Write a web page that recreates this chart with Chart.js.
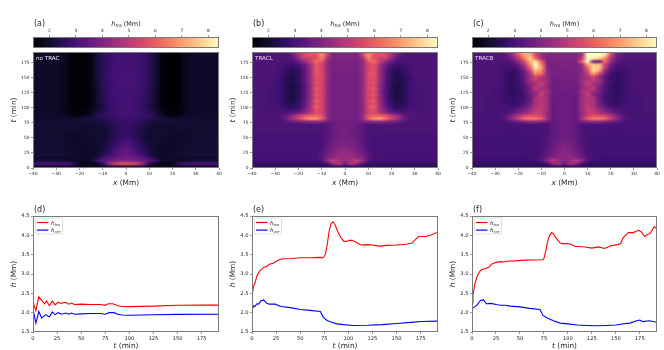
<!DOCTYPE html>
<html><head><meta charset="utf-8">
<script src="https://cdn.jsdelivr.net/npm/chart.js@4"></script>
<style>
html,body{margin:0;padding:0;background:#fff;width:664px;height:350px;overflow:hidden}
canvas{position:absolute;left:0;top:0}
.cell{position:absolute;overflow:hidden}
</style></head><body>
<script>
// ---- heat-map axes ----
const xCols=[0,2.5,5,7.5,10,12.5,15,17.5,20,22.5,25,27.5,30,32.5,35,37.5,40];
const heatXTicks=[-40,-30,-20,-10,0,10,20,30,40];
const heatYTicks=[0,25,50,75,100,125,150,175];
const cbarTicks=[2,3,4,5,6,7,8];
const lineXTicks=[0,25,50,75,100,125,150,175];
const lineYTicks=[1.5,2,2.5,3,3.5,4,4.5];
const rowStep=5;
// ---- h_tra (tenths of Mm): rows from t=192.5 down to t=2.5, columns |x|=0..40 ----
const hA=[
[29,29,29,27,25,21,16,14,14,14,17,18,19,19,19,19,19],
[29,29,29,27,25,21,16,14,14,14,17,18,19,19,19,19,19],
[29,29,29,27,25,21,16,14,14,14,17,18,19,19,19,19,19],
[29,29,29,27,25,21,16,14,14,14,17,18,19,19,19,19,19],
[29,29,29,27,25,21,16,14,14,14,17,18,19,19,19,19,19],
[29,29,29,27,25,21,16,14,14,14,17,18,19,19,19,19,19],
[30,30,29,27,25,21,16,14,14,14,17,18,19,19,19,19,19],
[30,30,29,28,25,21,16,14,14,14,17,18,19,19,19,19,19],
[30,30,29,28,25,21,16,14,14,14,17,18,19,19,19,19,19],
[30,30,29,28,25,21,16,14,14,14,17,18,19,19,19,19,19],
[30,30,29,27,25,21,16,14,14,14,17,18,19,19,19,19,19],
[30,30,29,27,25,21,16,14,14,14,17,18,19,19,19,19,19],
[30,29,29,27,25,20,16,14,14,14,17,18,19,19,19,19,19],
[30,29,29,27,24,20,16,14,14,14,17,18,19,19,19,19,19],
[30,29,29,27,24,20,16,14,14,14,17,18,19,19,19,19,19],
[29,29,28,27,24,20,16,14,14,14,17,18,19,19,19,19,19],
[29,29,28,27,24,20,16,14,14,14,17,18,19,19,19,19,19],
[29,29,28,26,24,20,16,14,14,14,17,18,19,19,19,19,19],
[29,29,28,26,23,19,16,14,14,14,17,18,19,19,19,19,19],
[29,29,28,26,24,20,17,15,15,15,17,18,19,19,19,19,19],
[29,29,28,27,25,22,18,15,15,15,17,18,19,19,19,19,19],
[29,29,28,27,26,24,20,17,16,16,18,19,19,19,19,19,19],
[28,28,27,26,25,24,23,22,21,20,20,20,20,20,20,20,20],
[27,27,26,24,22,21,21,21,21,21,21,21,20,20,20,20,20],
[27,26,25,23,21,20,20,20,20,20,20,20,20,20,20,20,20],
[27,26,25,22,20,20,20,20,20,20,20,20,20,20,20,20,20],
[27,26,24,22,20,20,20,20,20,20,20,20,20,20,20,20,20],
[27,26,24,22,20,20,20,20,20,19,19,20,20,20,20,20,20],
[28,26,24,22,20,20,20,20,19,19,20,20,21,20,21,20,21],
[29,27,25,22,20,20,20,19,19,19,20,20,20,21,20,21,20],
[31,29,26,23,21,20,20,19,19,19,20,20,21,21,21,21,21],
[33,30,27,24,21,20,19,19,19,19,20,21,20,20,20,20,20],
[34,32,28,25,22,20,19,19,19,20,20,20,21,21,21,21,21],
[35,33,30,26,22,20,19,19,19,20,20,21,20,20,20,20,20],
[36,34,31,28,24,20,19,19,20,20,21,21,22,22,22,22,22],
[37,36,34,32,28,22,19,19,19,19,19,19,19,19,19,19,19],
[41,40,38,36,33,30,20,18,19,19,20,21,22,22,22,22,22],
[58,58,54,42,24,17,16,16,17,26,30,30,30,30,30,30,30],
[20,20,20,20,19,19,19,19,19,19,19,19,19,19,19,19,19]];
const hB=[
[40,40,39,50,66,60,58,55,48,38,32,31,31,31,31,31,31],
[40,40,39,52,68,56,58,56,46,36,32,31,31,31,31,31,31],
[40,40,39,46,64,58,52,52,42,33,31,31,31,31,31,31,31],
[40,39,39,42,58,62,52,42,36,31,30,31,31,31,31,31,31],
[39,39,38,42,54,58,46,36,30,28,29,30,31,31,31,31,31],
[39,39,38,42,54,58,44,34,28,26,27,30,31,31,31,31,31],
[39,38,38,42,55,58,44,33,27,25,26,29,31,31,31,31,31],
[38,38,38,42,56,58,44,33,26,24,25,29,31,31,31,31,31],
[38,38,37,43,56,58,44,33,26,23,25,28,31,31,31,31,31],
[38,38,37,43,55,56,44,33,26,23,24,28,30,31,31,31,31],
[38,38,37,42,56,58,43,32,26,23,24,28,30,31,31,31,31],
[38,38,37,42,54,56,42,32,25,22,24,28,30,30,31,31,31],
[38,38,37,42,56,59,43,32,25,22,24,28,30,30,31,31,31],
[38,38,37,42,54,56,42,32,25,22,24,28,30,30,31,31,31],
[38,38,37,42,56,59,43,32,25,22,24,28,30,30,31,31,31],
[38,38,37,42,54,56,42,32,25,22,24,28,30,30,31,31,31],
[38,38,37,42,56,60,44,33,26,23,24,28,30,30,31,31,31],
[38,38,37,42,54,57,44,33,27,24,25,28,30,30,31,31,31],
[38,38,37,42,56,60,46,35,28,25,26,29,30,30,31,31,31],
[38,38,37,42,54,57,46,37,31,28,28,30,30,30,31,31,31],
[38,38,37,42,54,56,48,41,36,33,31,31,31,31,31,31,31],
[38,38,37,42,58,60,60,57,50,44,36,32,31,31,31,31,31],
[39,39,38,43,60,68,69,63,54,47,37,32,31,31,31,31,31],
[37,37,36,38,41,42,42,41,38,36,33,31,31,31,31,31,31],
[37,37,36,33,31,31,31,31,31,31,31,31,31,31,31,31,31],
[38,37,36,33,31,31,31,31,31,31,31,31,31,31,31,31,31],
[38,37,36,33,31,31,31,31,31,31,31,31,31,31,31,31,31],
[38,37,36,33,31,30,31,30,30,30,31,30,30,30,30,30,30],
[38,37,36,33,31,30,30,30,30,30,30,30,30,30,30,30,30],
[38,38,36,33,31,30,30,30,30,30,30,30,30,30,30,30,30],
[39,38,37,34,31,30,30,30,30,30,30,30,30,30,30,30,30],
[40,39,37,34,31,30,30,30,30,30,30,30,30,30,30,30,30],
[42,40,38,35,31,30,30,30,30,30,30,30,30,30,30,30,30],
[43,42,39,36,32,30,30,30,30,30,30,30,30,30,30,30,30],
[44,43,41,37,33,30,30,29,29,29,29,29,29,29,29,29,29],
[44,44,42,39,34,30,30,29,29,29,29,29,29,29,29,29,29],
[44,46,53,44,32,29,29,29,29,29,29,29,29,29,29,29,29],
[36,49,44,30,27,27,26,26,26,26,26,26,26,26,26,26,26],
[25,25,25,25,25,25,25,25,25,25,25,25,25,25,25,25,25]];
const hC=[
[40,40,40,41,44,58,70,72,62,46,36,33,32,32,32,32,32],
[40,40,40,40,45,55,74,70,56,42,34,32,32,32,32,32,32],
[40,40,39,40,47,62,78,62,50,38,33,32,32,32,32,32,32],
[39,39,39,40,60,80,72,54,42,34,31,31,31,31,31,31,31],
[39,39,38,40,66,84,66,48,36,31,30,31,31,31,31,31,31],
[39,39,38,41,70,82,60,42,32,29,29,30,31,31,31,31,31],
[38,38,38,42,66,74,52,38,30,27,28,30,31,31,31,31,31],
[38,38,38,43,62,66,46,36,29,26,27,30,31,31,31,31,31],
[38,38,37,43,50,56,44,34,28,26,27,30,31,31,31,31,31],
[37,37,37,45,46,52,46,33,28,26,27,30,31,31,31,31,31],
[37,37,37,44,52,46,44,34,28,26,27,30,31,31,31,31,31],
[37,37,36,42,50,48,40,32,27,26,27,30,31,31,31,31,31],
[37,37,36,44,46,50,38,31,27,26,27,30,30,31,31,31,31],
[37,36,36,46,50,44,38,31,27,26,27,29,30,31,31,31,31],
[36,36,36,44,52,42,36,30,27,26,27,29,30,30,31,31,31],
[36,36,35,44,50,46,35,30,27,26,27,29,30,30,31,31,31],
[36,36,35,46,48,48,36,30,27,27,27,29,30,30,31,31,31],
[36,36,35,44,50,46,38,31,28,27,28,29,30,30,31,31,31],
[36,36,35,46,50,48,40,34,30,29,29,30,30,30,31,31,31],
[36,36,35,44,52,50,44,38,34,31,30,30,30,30,31,31,31],
[36,36,35,44,50,52,46,42,38,34,31,30,30,30,31,31,31],
[36,36,35,43,54,56,56,54,48,40,34,31,30,30,30,30,30],
[36,36,35,46,60,64,65,62,52,44,35,31,30,30,30,30,30],
[36,36,35,37,41,42,42,40,37,34,32,30,30,30,30,30,30],
[36,36,34,31,30,30,30,30,30,30,30,30,30,30,30,30,30],
[36,36,34,31,30,30,30,30,30,30,30,30,30,30,30,30,30],
[37,36,34,31,30,30,30,30,30,29,30,30,30,30,30,30,30],
[37,36,34,31,30,30,29,29,29,29,29,29,29,29,29,29,29],
[37,36,34,31,30,30,29,29,29,29,29,29,29,29,29,29,29],
[38,37,35,32,30,29,29,29,29,29,29,29,29,29,29,29,29],
[38,37,35,32,30,29,29,29,29,29,29,29,29,29,29,29,29],
[39,38,35,32,30,29,29,29,29,29,29,29,29,29,29,29,29],
[40,38,36,33,30,29,29,29,29,29,29,29,29,29,29,29,29],
[41,40,37,34,30,29,29,29,29,29,29,29,29,29,29,29,29],
[42,41,38,35,31,29,29,29,29,29,29,29,29,29,29,29,29],
[42,42,40,37,32,29,29,28,28,28,28,28,28,28,28,28,28],
[40,44,50,42,32,29,28,28,28,28,28,28,28,28,28,28,28],
[34,46,42,29,26,26,26,26,26,26,26,26,26,26,26,26,26],
[25,25,25,25,25,25,25,25,25,25,25,25,25,25,25,25,25]];
// right-hand side of panel (c), first rows from the top, where it differs from the left
const hCRightTop=[
[40,40,40,44,84,84,84,84,60,40,34,32,32,32,32,32,32],
[40,40,40,46,84,84,84,78,52,38,33,32,32,32,32,32,32],
[40,40,40,50,84,80,76,66,48,36,33,32,32,32,32,32,32],
[39,39,39,60,84,36,34,62,44,34,31,31,31,31,31,31,31],
[39,39,38,44,70,76,74,54,38,32,30,31,31,31,31,31,31],
[39,39,38,42,62,78,76,50,35,30,29,30,31,31,31,31,31],
[38,38,38,42,56,80,70,44,32,28,28,30,31,31,31,31,31],
[38,38,38,42,52,70,56,38,30,27,27,30,31,31,31,31,31],
[38,38,37,42,48,54,44,34,28,26,27,30,31,31,31,31,31]];
// ---- height curves (d), (e), (f) ----
const tTraD=[0,3,6,9,12,14,17,20,23,26,29,34,37,40,43,50,60,70,75,78,83,88,92,100,125,150,175,193];
const traD=[2.28,2.05,2.41,2.32,2.23,2.30,2.18,2.30,2.20,2.27,2.24,2.27,2.22,2.25,2.21,2.22,2.21,2.21,2.19,2.23,2.23,2.18,2.16,2.155,2.17,2.19,2.195,2.195];
const tCorD=[0,3,6,9,13,17,20,23,26,30,34,37,40,43,50,60,70,75,79,84,88,92,100,125,150,193];
const corD=[2.08,1.73,2.03,1.86,1.95,1.89,2.02,1.95,2.0,1.96,1.99,1.96,1.99,1.96,1.97,1.98,1.98,1.96,2.0,2.0,1.96,1.94,1.935,1.945,1.955,1.96];
const tTraE=[0,0.5,1.5,3,5,8,10,12,15,18,22,25,30,40,50,60,70,74,76,78,80,82,84,86,89,92,95,98,101,104,108,113,120,125,132,140,150,160,166,170,173,180,185,193];
const traE=[2.25,2.5,2.68,2.76,2.95,3.08,3.12,3.17,3.19,3.25,3.28,3.33,3.39,3.40,3.42,3.42,3.43,3.42,3.5,3.75,4.1,4.3,4.35,4.28,4.1,3.95,3.85,3.84,3.87,3.87,3.82,3.75,3.76,3.75,3.72,3.74,3.75,3.77,3.8,3.9,3.97,3.97,4.0,4.08];
const tCorE=[0,1,3,5,7,9,12,15,18,24,30,40,50,60,71,74,78,82,88,95,105,120,135,150,165,175,193];
const corE=[2.12,2.18,2.16,2.23,2.22,2.3,2.33,2.25,2.22,2.22,2.16,2.13,2.08,2.06,2.03,1.88,1.8,1.76,1.71,1.69,1.67,1.675,1.69,1.72,1.75,1.77,1.78];
const tTraF=[0,1,3,6,9,12,15,18,20,25,30,33,36,45,55,74,75,77,79,81,83,85,88,92,95,100,103,108,112,118,125,132,138,145,152,155,158,163,168,174,177,180,183,186,190,193];
const traF=[2.25,2.45,2.75,2.98,3.1,3.13,3.15,3.18,3.25,3.3,3.32,3.31,3.33,3.34,3.36,3.37,3.4,3.6,3.85,4.0,4.07,4.03,3.92,3.8,3.78,3.79,3.77,3.71,3.71,3.70,3.67,3.70,3.66,3.73,3.76,3.79,3.95,4.07,4.07,4.13,4.08,3.97,4.02,4.05,4.22,4.17];
const tCorF=[0,3,6,9,12,15,20,25,30,35,40,50,60,71,74,78,85,92,100,110,120,130,140,150,160,165,170,175,178,185,193];
const corF=[2.11,2.15,2.22,2.32,2.33,2.23,2.24,2.21,2.19,2.19,2.17,2.15,2.11,2.08,1.93,1.87,1.79,1.73,1.71,1.68,1.67,1.66,1.67,1.68,1.72,1.73,1.78,1.81,1.77,1.79,1.75];
const magma=['#000004','#140e36','#3b0f70','#641a80','#8c2981','#b73779','#de4968','#f7705c','#fe9f6d','#fecf92','#fcfdbf'];

Chart.defaults.font.family="'DejaVu Sans'";
Chart.defaults.animation=false;
const W=664,H=350,VMIN=1.385,VMAX=8.4,SPINE='#7a7a7a',TXT='#262626';
function hex(c){return [1,3,5].map(i=>parseInt(c.substr(i,2),16));}
function cmap(v){
  let f=Math.max(0,Math.min(1,(v-VMIN)/(VMAX-VMIN)))*10,i=Math.min(9,Math.floor(f)),a=hex(magma[i]),b=hex(magma[i+1]);
  f-=i;return 'rgb('+a.map((q,k)=>Math.round(q+(b[k]-q)*f)).join(',')+')';
}
function addCanvas(w,h,parent){const c=document.createElement('canvas');c.width=w;c.height=h;(parent||document.body).appendChild(c);return c;}
const textPlugin={id:'richText',afterDraw(ch,a,o){
  const g=ch.ctx,area=ch.chartArea;
  (o.items||[]).forEach(it=>{
    g.save();
    let wTot=0;
    const fnt=r=>(r.i?'italic ':'')+r.s+"px 'DejaVu Sans'";
    it.runs.forEach(r=>{g.font=fnt(r);wTot+=g.measureText(r.t).width;});
    g.translate(area.left+it.x,area.top+it.y);
    if(it.rot)g.rotate(it.rot);
    let x=it.center?-wTot/2:0;
    g.textBaseline='alphabetic';g.textAlign='left';g.fillStyle=it.c||TXT;
    it.runs.forEach(r=>{g.font=fnt(r);g.fillText(r.t,x,r.d||0);x+=g.measureText(r.t).width;});
    g.restore();
  });
}};
const framePlugin={id:'frame',afterDraw(ch){
  const g=ch.ctx,a=ch.chartArea;g.save();g.strokeStyle=SPINE;g.lineWidth=1;
  g.strokeRect(Math.round(a.left)+.5,Math.round(a.top)+.5,Math.round(a.right-a.left)-1,Math.round(a.bottom-a.top)-1);g.restore();
}};
const legendPlugin={id:'miniLegend',afterDraw(ch){
  const g=ch.ctx,a=ch.chartArea,x=a.left+2.5,y=a.top+2,w=27,h=16;
  g.save();g.fillStyle='rgba(255,255,255,.9)';g.strokeStyle='#d0d0d0';g.lineWidth=.7;
  g.beginPath();g.roundRect(x,y,w,h,1);g.fill();g.stroke();
  ch.data.datasets.forEach((d,i)=>{
    const yy=y+4.5+i*7.6;
    g.strokeStyle=d.borderColor;g.lineWidth=1.2;g.beginPath();g.moveTo(x+1.5,yy);g.lineTo(x+13,yy);g.stroke();
    g.fillStyle=TXT;g.font="italic 5.5px 'DejaVu Sans'";g.fillText('h',x+15.5,yy+2);
    const hw=g.measureText('h').width;
    g.font="italic 3.8px 'DejaVu Sans'";g.fillText(d.label,x+15.5+hw,yy+3);
  });
  g.restore();
}};
function makeTicks(list){return s=>{s.ticks=list.map(v=>({value:v}));};}
function scaleOpts(list,min,max,size,fmt,pos){
  return {type:'linear',position:pos,min,max,afterBuildTicks:makeTicks(list),
    grid:{display:true,drawOnChartArea:false,drawTicks:true,tickLength:2,color:'#555',lineWidth:.6},
    border:{display:false},
    ticks:{font:{size},color:TXT,padding:1.5,maxRotation:0,autoSkip:false,callback:fmt}};
}
const fmtTick=v=>String(v).replace('-','\u2212');
const fmtFix=v=>Number(v).toFixed(1);

function heatCells(left,top,width,height,rows){
  const nC=rows[0].length,nR=rows.length;
  const wrap=document.createElement('div');wrap.className='cell';
  wrap.style.cssText='left:'+left+'px;top:'+top+'px;width:'+width+'px;height:'+height+'px';
  document.body.appendChild(wrap);
  const c=addCanvas(nC,nR,wrap);
  const colW=width/(nC-1), rowH=height/(193/rowStep);
  c.style.transformOrigin='0 0';
  c.style.left=(-colW/2)+'px';
  c.style.top=(height-rowH*nR)+'px';
  new Chart(c,{type:'bar',
    data:{labels:rows[0].map((_,i)=>i),
      datasets:rows.map(r=>({data:r.map(()=>rowStep),backgroundColor:r.map(v=>cmap(v/10)),borderWidth:0,inflateAmount:0,barPercentage:1,categoryPercentage:1})).reverse()},
    options:{responsive:false,devicePixelRatio:1,layout:{padding:0},plugins:{legend:{display:false},tooltip:{enabled:false}},
      scales:{x:{display:false,stacked:true},y:{display:false,stacked:true,min:0,max:rowStep*nR}}}});
  c.style.transform='scale('+colW+','+rowH+')';
}
function mirror(left,right){return left.map((r,i)=>r.slice(1).reverse().concat((right||left)[i]));}
function pad(L,T,R,B,ax,bx){return {left:L-ax,top:T,right:W-R,bottom:H-B-bx};}
function axisWidth(w){return s=>{s.width=w;};}
function axisHeight(h){return s=>{s.height=h;};}

function colorbar(L,R,T,B){
  const c=addCanvas(W,H),levels=[];
  for(let v=VMIN;v<VMAX;v+=0.05)levels.push(v);
  const xs=scaleOpts(cbarTicks,VMIN,VMAX,4.4,fmtTick,'top');
  xs.afterFit=axisHeight(9);
  new Chart(c,{type:'bar',plugins:[framePlugin],
    data:{labels:['h'],datasets:levels.map(v=>({data:[[v,v+0.05]],backgroundColor:cmap(v+.025),borderWidth:0,grouped:false,barPercentage:1,categoryPercentage:1}))},
    options:{indexAxis:'y',responsive:false,devicePixelRatio:1,layout:{padding:{left:L,right:W-R,top:T-9,bottom:H-B}},
      plugins:{legend:{display:false},tooltip:{enabled:false}},
      scales:{x:xs,y:{display:false}}}});
}
function heatPanel(L,R,T,B,rows,tag,name,nameCol,cbTop,cbBot){
  heatCells(L,T,R-L,B-T,rows);
  colorbar(L,R,cbTop,cbBot);
  const c=addCanvas(W,H);
  const xs=scaleOpts(heatXTicks,-40,40,4.4,fmtTick,'bottom');xs.afterFit=axisHeight(8);
  const ys=scaleOpts(heatYTicks,0,193,4.4,fmtTick,'left');ys.afterFit=axisWidth(12);
  new Chart(c,{type:'scatter',plugins:[framePlugin,textPlugin],data:{datasets:[]},
    options:{responsive:false,devicePixelRatio:1,layout:{padding:pad(L,T,R,B,12,8)},
      plugins:{legend:{display:false},tooltip:{enabled:false},richText:{items:[
        {x:1,y:-26,runs:[{t:tag,s:8}]},
        {x:(R-L)/2,y:-26,center:1,runs:[{t:'h',s:6.5,i:1},{t:'tra',s:4.4,i:1,d:1.2},{t:' (Mm)',s:6.5}]},
        {x:3,y:8,runs:[{t:name,s:5.6}],c:nameCol},
        {x:(R-L)/2,y:B-T+17,center:1,runs:[{t:'x',s:7.4,i:1},{t:' (Mm)',s:7.4}]},
        {x:-17,y:(B-T)/2,center:1,rot:-Math.PI/2,runs:[{t:'t',s:7.4,i:1},{t:' (min)',s:7.4}]}
      ]}},
      scales:{x:xs,y:ys}}});
}
function linePanel(L,R,T,B,tag,tt,tr,tc,co){
  const c=addCanvas(W,H);
  const xs=scaleOpts(lineXTicks,0,193,5.2,fmtTick,'bottom');xs.afterFit=axisHeight(9);
  const ys=scaleOpts(lineYTicks,1.5,4.5,5.2,fmtFix,'left');ys.afterFit=axisWidth(14);
  const pts=(a,b)=>a.map((t,i)=>({x:t,y:b[i]}));
  new Chart(c,{type:'scatter',plugins:[framePlugin,textPlugin,legendPlugin],
    data:{datasets:[
      {label:'tra',data:pts(tt,tr),showLine:true,borderColor:'#ff0000',borderWidth:1.1,pointRadius:0,tension:0},
      {label:'cor',data:pts(tc,co),showLine:true,borderColor:'#0000ff',borderWidth:1.1,pointRadius:0,tension:0}]},
    options:{responsive:false,devicePixelRatio:1,layout:{padding:pad(L,T,R,B,14,9)},
      plugins:{legend:{display:false},tooltip:{enabled:false},richText:{items:[
        {x:1,y:-4,runs:[{t:tag,s:8}]},
        {x:(R-L)/2,y:B-T+16,center:1,runs:[{t:'t',s:7.4,i:1},{t:' (min)',s:7.4}]},
        {x:-17,y:(B-T)/2,center:1,rot:-Math.PI/2,runs:[{t:'h',s:7.4,i:1},{t:' (Mm)',s:7.4}]}
      ]}},
      scales:{x:xs,y:ys}}});
}
const topRight=hC.map((r,i)=>hCRightTop[i]||r);
heatPanel(33,219,52,168,mirror(hA),'(a)','no TRAC','#f0ecf5',37,48);
heatPanel(252,438,52,168,mirror(hB),'(b)','TRACL','#e6d8f0',37,48);
heatPanel(472,657,52,168,mirror(hC,topRight),'(c)','TRACB','#e6d8f0',37,48);
linePanel(33,219,216,332,'(d)',tTraD,traD,tCorD,corD);
linePanel(252,438,216,332,'(e)',tTraE,traE,tCorE,corE);
linePanel(472,657,216,332,'(f)',tTraF,traF,tCorF,corF);
</script>
</body></html>
